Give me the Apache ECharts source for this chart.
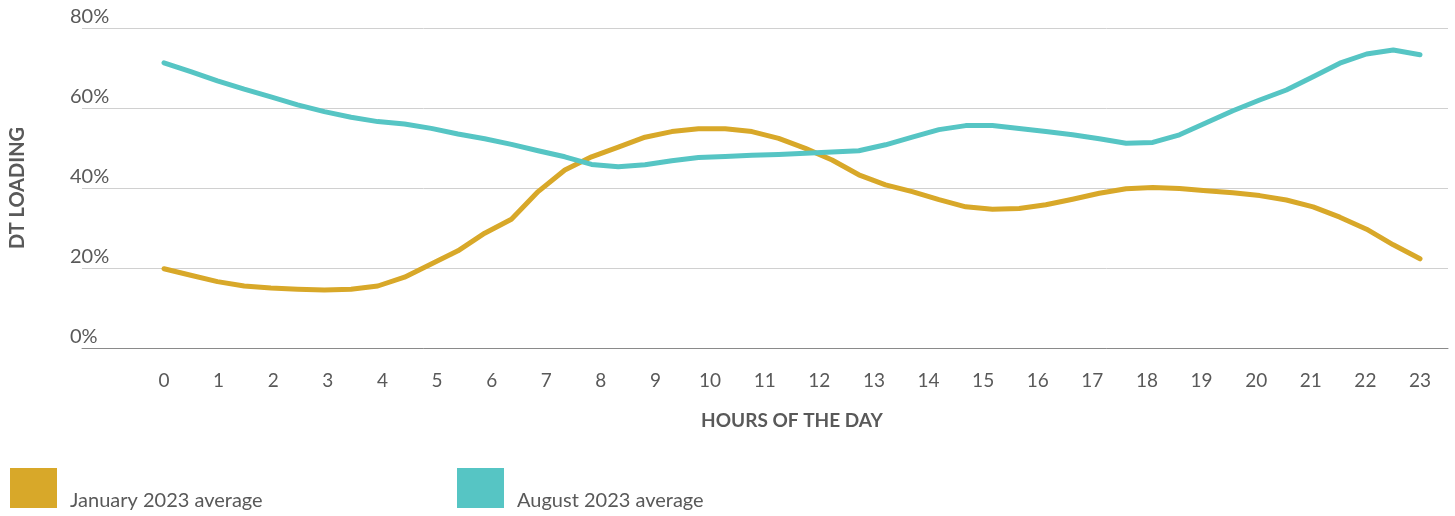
<!DOCTYPE html>
<html>
<head>
<meta charset="utf-8">
<script src="https://cdn.jsdelivr.net/npm/echarts@6/dist/echarts.min.js"></script>
<style>
  html, body { margin: 0; padding: 0; background: #fff; }
  #chart { width: 1455px; height: 516px; }
</style>
</head>
<body>
<div id="chart"></div>
<script>
// hour tick labels on the axis
var hourLabels = ['0','1','2','3','4','5','6','7','8','9','10','11','12','13','14','15','16','17','18','19','20','21','22','23'];

// half-hour readings, 48 points per series (values in %)
var januaryAvg = [
  19.8, 18.2, 16.6, 15.5, 15.0, 14.7, 14.5, 14.7, 15.5, 17.7,
  21.0, 24.3, 28.7, 32.2, 39.1, 44.5, 47.8, 50.2, 52.7, 54.1,
  54.8, 54.8, 54.1, 52.4, 49.9, 47.0, 43.3, 40.8, 39.1, 37.1,
  35.3, 34.7, 34.9, 35.8, 37.2, 38.7, 39.8, 40.1, 39.9, 39.3,
  38.8, 38.1, 37.0, 35.3, 32.7, 29.7, 25.8, 22.3
];
var augustAvg = [
  71.3, 69.1, 66.8, 64.7, 62.8, 60.8, 59.1, 57.7, 56.6, 56.0,
  54.9, 53.5, 52.3, 50.9, 49.3, 47.8, 45.9, 45.3, 45.8, 46.8,
  47.6, 47.9, 48.2, 48.4, 48.7, 49.0, 49.3, 50.8, 52.7, 54.6,
  55.6, 55.6, 54.9, 54.1, 53.3, 52.3, 51.2, 51.4, 53.3, 56.3,
  59.3, 62.0, 64.5, 67.8, 71.2, 73.5, 74.5, 73.3
];

var seriesNames = ['January 2023 average', 'August 2023 average'];
var colors = ['#D8A829', '#56C5C4'];

// half-hour slots for the data axis
var halfHourSlots = [];
for (var h = 0; h < 24; h++) {
  halfHourSlots.push(h + ':00');
  halfHourSlots.push(h + ':30');
}

var FONT = '"Source Sans Pro", Lato, "Noto Sans", sans-serif';
var GREY = '#595959';

// legend label pushed to the bottom of the square
function legendBox(left, name) {
  return {
    left: left, top: 468, padding: 0,
    itemWidth: 47, itemHeight: 40,
    icon: 'rect',
    data: [name],
    formatter: function (n) { return '{t|' + n + '}'; },
    textStyle: {
      rich: {
        t: { fontFamily: FONT, fontSize: 20, color: GREY, padding: [26, 0, 0, 8] }
      }
    }
  };
}

var chart = echarts.init(document.getElementById('chart'));
var option = {
  animation: false,
  color: colors,
  textStyle: { fontFamily: FONT },
  grid: [
    { left: 70, right: 7, top: 28, height: 320 },   // gridlines + y labels
    { left: 164, right: 35, top: 28, height: 320 }  // data area
  ],
  legend: [legendBox(10, seriesNames[0]), legendBox(457, seriesNames[1])],
  xAxis: [
    {
      gridIndex: 0, type: 'value', min: 0, max: 1,
      axisLine: { show: true, lineStyle: { color: '#8a8a8a', width: 1 } },
      axisTick: { show: false }, axisLabel: { show: false }, splitLine: { show: false }
    },
    {
      gridIndex: 1, type: 'category', data: hourLabels, boundaryGap: false,
      axisLine: { show: false }, axisTick: { show: false },
      axisLabel: { margin: 23, fontSize: 19, color: GREY, fontFamily: FONT },
      name: 'HOURS OF THE DAY', nameLocation: 'middle', nameGap: 63,
      nameTextStyle: { fontSize: 19, fontWeight: 'bold', color: GREY, fontFamily: FONT }
    },
    {
      gridIndex: 1, type: 'category', data: halfHourSlots, boundaryGap: false,
      position: 'bottom', show: false
    }
  ],
  yAxis: [
    {
      gridIndex: 0, type: 'value', min: 0, max: 80, interval: 20,
      axisLine: { show: false }, axisTick: { show: false },
      axisLabel: {
        inside: true, margin: -12, formatter: '{value}%',
        fontSize: 20, color: GREY, fontFamily: FONT,
        verticalAlign: 'bottom', padding: [0, 0, 1, 0]
      },
      splitLine: { lineStyle: { color: '#d0d0d0', width: 1 } },
      name: 'DT LOADING', nameLocation: 'middle', nameGap: 54,
      nameTextStyle: { fontSize: 20, fontWeight: 'bold', color: GREY, fontFamily: FONT }
    },
    { gridIndex: 1, type: 'value', min: 0, max: 80, show: false, splitLine: { show: false } }
  ],
  series: [
    {
      name: seriesNames[0], type: 'line', xAxisIndex: 2, yAxisIndex: 1,
      data: januaryAvg, symbol: 'none',
      lineStyle: { width: 5, color: colors[0], cap: 'round', join: 'round' },
      itemStyle: { color: colors[0] }
    },
    {
      name: seriesNames[1], type: 'line', xAxisIndex: 2, yAxisIndex: 1,
      data: augustAvg, symbol: 'none',
      lineStyle: { width: 5, color: colors[1], cap: 'round', join: 'round' },
      itemStyle: { color: colors[1] }
    }
  ]
};
chart.setOption(option);
</script>
</body>
</html>
